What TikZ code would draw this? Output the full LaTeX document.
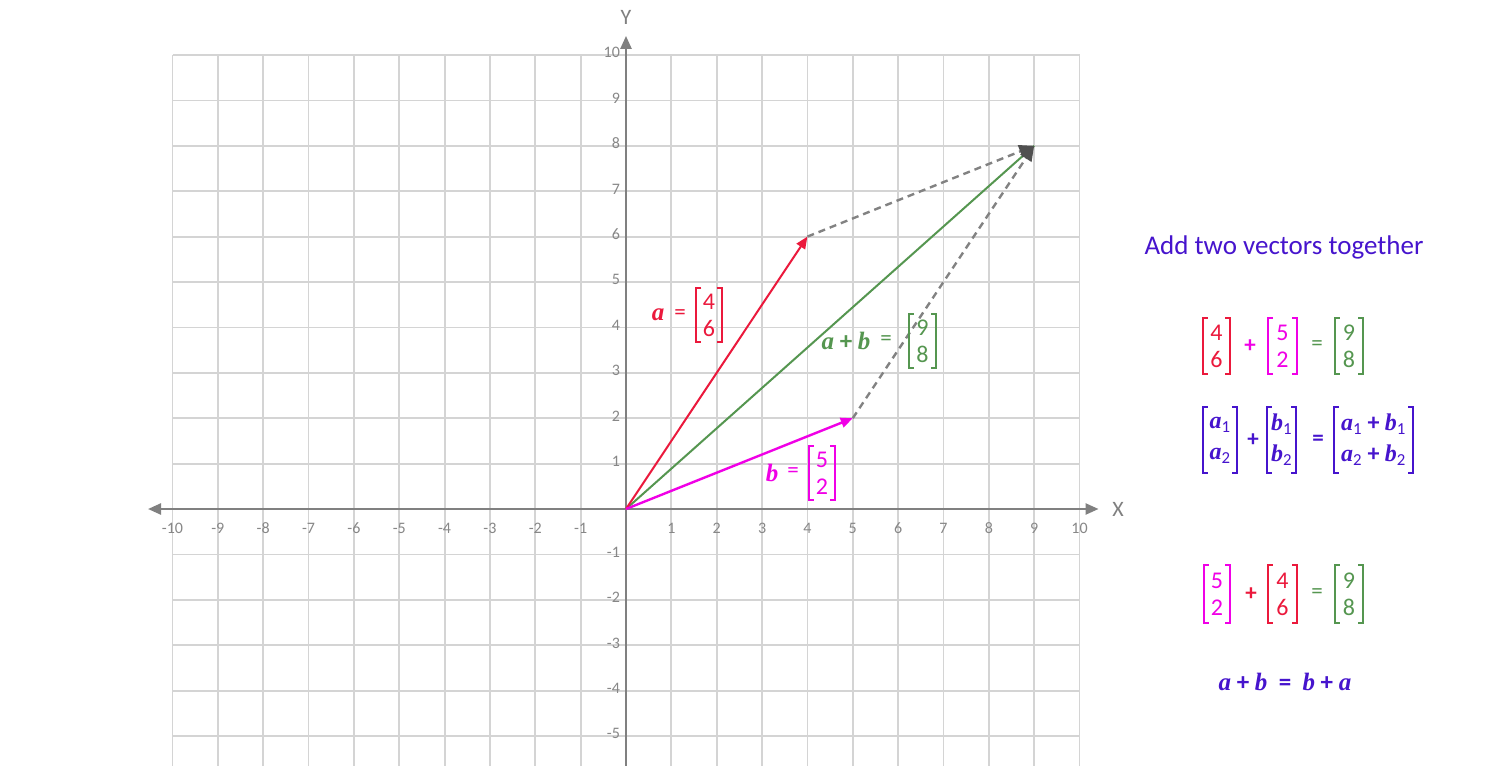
\documentclass[tikz,border=0pt]{standalone}
\usepackage{fontspec}
\setmainfont{Carlito}
\newfontfamily\serfont{Liberation Serif}
\usetikzlibrary{arrows.meta}
\definecolor{cred}{RGB}{235,25,60}
\definecolor{cmag}{RGB}{240,0,230}
\definecolor{cgrn}{RGB}{85,150,80}
\definecolor{cpur}{RGB}{70,20,205}
\definecolor{gridc}{RGB}{212,212,212}
\definecolor{axisc}{RGB}{128,128,128}
\definecolor{tickc}{RGB}{135,135,135}
\definecolor{dashc}{RGB}{130,130,130}
\definecolor{tipc}{RGB}{80,80,80}
\newcommand\vf{\serfont\bfseries\itshape}
\newcommand\vbrk[2]{\draw[#2, line width=1.8pt] ([xshift=5pt]#1.north west) -- (#1.north west) -- (#1.south west) -- ([xshift=5pt]#1.south west) ([xshift=-5pt]#1.north east) -- (#1.north east) -- (#1.south east) -- ([xshift=-5pt]#1.south east);}
\begin{document}
\begin{tikzpicture}[x=1pt,y=-1pt,
  gridline/.style={gridc, line width=1.8pt},
  axisline/.style={axisc, line width=2.4pt},
  ticklab/.style={text=tickc, font=\fontsize{16}{19}\selectfont, inner sep=0},
  axlab/.style={text=axisc, font=\fontsize{22}{25}\selectfont, inner sep=0},
  lab/.style={font=\fontsize{25}{28}\selectfont, inner sep=0},
  opr/.style={font=\fontsize{23}{26}\selectfont, inner sep=0},
  vecbox/.style={inner sep=0, align=center, font=\fontsize{24}{27}\selectfont},
  gvecbox/.style={inner sep=0, align=center, font=\fontsize{24}{31}\selectfont},
  vecline/.style={line width=2pt, -{Triangle[length=12pt,width=10pt]}},
  dashline/.style={dashc, line width=2.4pt, dash pattern=on 7pt off 5pt, -{Triangle[length=15pt,width=13pt,color=tipc]}}]
\fill[white] (0,0) rectangle (1508,766);
\useasboundingbox (0,0) rectangle (1508,766);
\begin{scope}[shift={(626,509)}, x=45.35pt, y=45.4pt]
  \foreach \i in {-10,...,10} \draw[gridline] (\i,10) -- (\i,-5.67);
  \foreach \j in {-5,...,10} \draw[gridline] (-10,\j) -- (10,\j);
  \draw[axisline, {Triangle[length=13pt,width=11pt]}-{Triangle[length=13pt,width=11pt]}] (-10.54,0) -- (10.42,0);
  \draw[axisline, -{Triangle[length=13pt,width=11pt]}] (0,-5.67) -- (0,10.42);
  \foreach \i in {-10,...,-1,1,2,...,10} \node[ticklab] (xt\i) at (\i,-0.42) {\i};
  \foreach \j in {-5,...,-1,1,2,...,10} \node[ticklab, anchor=east] (yt\j) at (-0.13,\j+0.05) {\j};
  \coordinate (O) at (0,0);
  \coordinate (A) at (4,6);
  \coordinate (B) at (5,2);
  \coordinate (S) at (9,8);
  \draw[cgrn, line width=2pt] (O) -- (S);
  \draw[vecline, cred] (O) -- (A);
  \draw[vecline, cmag, line width=2.4pt] (O) -- (B);
  \draw[dashline] (A) -- (S);
  \draw[dashline] (B) -- (S);
\end{scope}
\node[axlab] (ylab) at (626,17) {Y};
\node[axlab] (xlab) at (1118,509) {X};
% plot labels
\node[lab, text=cred] (la) at (658,315) {\vf a};
\node[opr, text=cred] (lae) at (680,315) {=};
\node[vecbox, text=cred, minimum width=25pt, minimum height=54pt] (va) at (709,315) {4\\6};
\vbrk{va}{cred}
\node[lab, text=cgrn] (ls) at (846,341) {{\vf a} \textbf{+} {\vf b}};
\node[opr, text=cgrn] (lse) at (886,341) {=};
\node[vecbox, text=cgrn, minimum width=27pt, minimum height=54pt] (vs) at (922.5,341) {9\\8};
\vbrk{vs}{cgrn}
\node[lab, text=cmag] (lb) at (772,473) {\vf b};
\node[opr, text=cmag] (lbe) at (793,473) {=};
\node[vecbox, text=cmag, minimum width=26pt, minimum height=54pt] (vb) at (822,473) {5\\2};
\vbrk{vb}{cmag}
% right side
\node[text=cpur, font=\fontsize{27}{30}\selectfont, inner sep=0] (title) at (1284,247) {Add two vectors together};
% row 1
\node[vecbox, text=cred, minimum width=27pt, minimum height=56pt] (r1a) at (1216.5,346) {4\\6};
\vbrk{r1a}{cred}
\node[opr, text=cmag] (r1p) at (1250,346) {\textbf{+}};
\node[vecbox, text=cmag, minimum width=29pt, minimum height=56pt] (r1b) at (1282.5,346) {5\\2};
\vbrk{r1b}{cmag}
\node[opr, text=cgrn] (r1e) at (1317,346) {=};
\node[vecbox, text=cgrn, minimum width=28pt, minimum height=56pt] (r1s) at (1349,346) {9\\8};
\vbrk{r1s}{cgrn}
% row 2
\node[gvecbox, text=cpur, minimum width=34pt, minimum height=65pt] (r2a) at (1220,440) {{\vf a}\textsubscript{1}\\{\vf a}\textsubscript{2}};
\vbrk{r2a}{cpur}
\node[opr, text=cpur] (r2p) at (1253,440) {\textbf{+}};
\node[gvecbox, text=cpur, minimum width=29pt, minimum height=65pt] (r2b) at (1281.5,440) {{\vf b}\textsubscript{1}\\{\vf b}\textsubscript{2}};
\vbrk{r2b}{cpur}
\node[opr, text=cpur] (r2e) at (1318,440) {\textbf{=}};
\node[gvecbox, text=cpur, minimum width=79pt, minimum height=65pt] (r2s) at (1373.5,440) {{\vf a}\textsubscript{1} \textbf{+} {\vf b}\textsubscript{1}\\{\vf a}\textsubscript{2} \textbf{+} {\vf b}\textsubscript{2}};
\vbrk{r2s}{cpur}
% row 3
\node[vecbox, text=cmag, minimum width=26pt, minimum height=57pt] (r3a) at (1217,594) {5\\2};
\vbrk{r3a}{cmag}
\node[opr, text=cred] (r3p) at (1251,594) {\textbf{+}};
\node[vecbox, text=cred, minimum width=29pt, minimum height=57pt] (r3b) at (1282.5,594) {4\\6};
\vbrk{r3b}{cred}
\node[opr, text=cgrn] (r3e) at (1317,594) {=};
\node[vecbox, text=cgrn, minimum width=28pt, minimum height=57pt] (r3s) at (1349,594) {9\\8};
\vbrk{r3s}{cgrn}
% commutative law
\node[lab, text=cpur] (comm) at (1285,682) {{\vf a} \textbf{+} {\vf b} \ \textbf{=} \ {\vf b} \textbf{+} {\vf a}};
\end{tikzpicture}
\end{document}
